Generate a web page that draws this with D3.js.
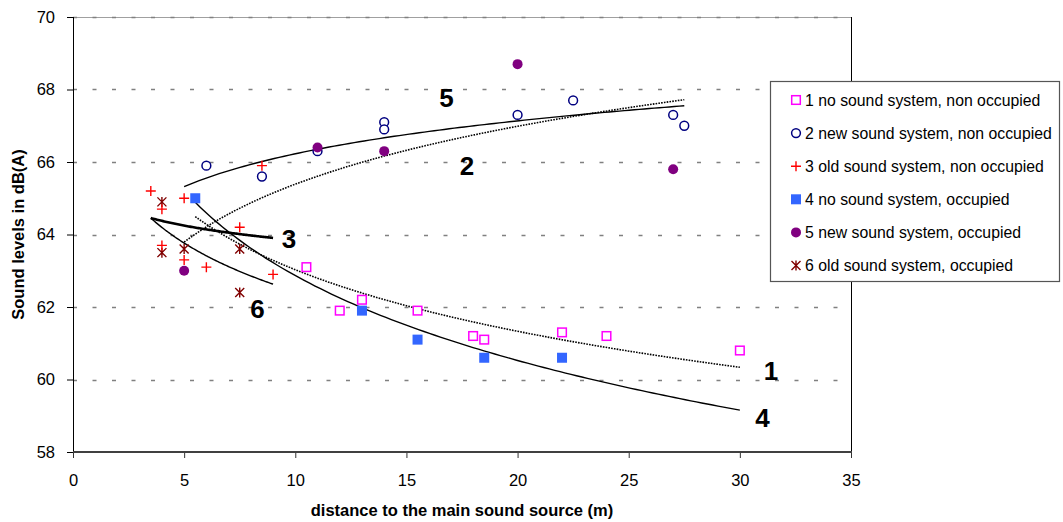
<!DOCTYPE html>
<html><head><meta charset="utf-8">
<script src="https://cdn.jsdelivr.net/npm/d3@7"></script>
<style>body{margin:0;background:#fff} text{font-family:Arial,"Liberation Sans",sans-serif}</style>
</head><body><svg id="c" width="1063" height="522"></svg>
<script>
const xTicks=[0,5,10,15,20,25,30,35];
const yTicks=[58,60,62,64,66,68,70];
const s1x=[10.5,12,13,15.5,18,18.5,22,24,30];
const s1y=[63.1,61.9,62.2,61.9,61.2,61.1,61.3,61.2,60.8];
const s2x=[6,8.5,11,14,14,20,22.5,27,27.5];
const s2y=[65.9,65.6,66.3,67.1,66.9,67.3,67.7,67.3,67.0];
const s3x=[3.5,4,4,5,5,6,7.5,8.5,9];
const s3y=[65.2,64.7,63.7,65.0,63.3,63.1,64.2,65.9,62.9];
const s4x=[5.5,13,15.5,18.5,22];
const s4y=[65.0,61.9,61.1,60.6,60.6];
const s5x=[5,11,14,20,27];
const s5y=[63.0,66.4,66.3,68.7,65.8];
const s6x=[4,4,5,7.5,7.5];
const s6y=[64.9,63.5,63.6,63.6,62.4];
const seriesNames=["1 no sound system, non occupied","2 new sound system, non occupied","3 old sound system, non occupied","4 no sound system, occupied","5 new sound system, occupied","6 old sound system, occupied"];
// logarithmic trendlines  y = a + b*ln(x)
const trendNames=["1","2","3","4","5","6"];
const trendA=[68.67,60.08,65.18,70.65,63.21,66.87];
const trendB=[-2.45,2.305,-0.58,-3.38,1.31,-1.93];
const trendX0=[5.5,5,3.5,5.5,5,3.5];
const trendX1=[30,27.5,9,30,27.5,9];
const labelX=[31.4,17.72,9.72,31.02,16.8,8.3];
const labelY=[59.99,65.64,63.63,58.69,67.52,61.7];

const svg=d3.select("#c");
const L=73,R=851,T=17,B=452;
const x=d3.scaleLinear().domain([0,35]).range([L,R]);
const y=d3.scaleLinear().domain([58,70]).range([B,T]);

// top border
svg.append("line").attr("x1",L).attr("x2",R).attr("y1",T+0.5).attr("y2",T+0.5).attr("stroke","#a0a0a0").attr("stroke-width",1);
// gridlines
svg.append("g").selectAll("line").data(yTicks.filter(v=>v>58)).join("line")
  .attr("x1",L).attr("x2",R).attr("y1",d=>Math.round(y(d))+0.5).attr("y2",d=>Math.round(y(d))+0.5)
  .attr("stroke","#808080").attr("stroke-width",1.3).attr("stroke-dasharray","4,15.5");
// right border
svg.append("line").attr("x1",R+0.5).attr("x2",R+0.5).attr("y1",T).attr("y2",B+6).attr("stroke","#000");

// axes
const gy=svg.append("g").attr("transform",`translate(${L},0)`)
  .call(d3.axisLeft(y).tickValues(yTicks).tickSize(6).tickPadding(12).tickFormat(d3.format("d")));
gy.select(".domain").remove();
gy.selectAll("text").attr("font-size","16.5px").attr("fill","#000").attr("font-family","Arial, 'Liberation Sans', sans-serif");
gy.selectAll("line").attr("stroke","#000");
svg.append("line").attr("x1",L+0.5).attr("x2",L+0.5).attr("y1",T).attr("y2",B).attr("stroke","#000");

const gx=svg.append("g").attr("transform",`translate(0,${B})`)
  .call(d3.axisBottom(x).tickValues(xTicks).tickSize(6).tickPadding(16).tickFormat(d3.format("d")));
gx.select(".domain").remove();
gx.selectAll("text").attr("font-size","16.5px").attr("fill","#000").attr("font-family","Arial, 'Liberation Sans', sans-serif");
gx.selectAll("line").attr("stroke","#333");
svg.append("line").attr("x1",L).attr("x2",R+1).attr("y1",B).attr("y2",B).attr("stroke","#404040").attr("stroke-width",2);

// axis titles
svg.append("text").attr("x",(L+R)/2-0).attr("y",516).attr("text-anchor","middle")
  .attr("font-weight","bold").attr("font-size","16.5px").text("distance to the main sound source (m)");
svg.append("text").attr("transform",`translate(24,${(T+B)/2}) rotate(-90)`).attr("text-anchor","middle")
  .attr("font-weight","bold").attr("font-size","16.5px").text("Sound levels in dB(A)");

// trendlines
const trendStyle=[
  {w:1.6,dash:"1.6,1.2"},{w:1.6,dash:"1.6,1.2"},{w:2.6,dash:null},
  {w:1.4,dash:null},{w:1.4,dash:null},{w:1.4,dash:null}];
const line=d3.line().x(d=>x(d[0])).y(d=>y(d[1])).curve(d3.curveLinear);
trendNames.forEach((n,i)=>{
  const pts=d3.range(0,101).map(k=>{const xv=trendX0[i]+(trendX1[i]-trendX0[i])*k/100;return [xv,trendA[i]+trendB[i]*Math.log(xv)];});
  const p=svg.append("path").attr("d",line(pts)).attr("fill","none").attr("stroke","#000").attr("stroke-width",trendStyle[i].w);
  if(trendStyle[i].dash)p.attr("stroke-dasharray",trendStyle[i].dash);
});

// markers
function drawMarker(g,type,cx,cy){
  if(type===0) g.append("rect").attr("x",cx-4.3).attr("y",cy-4.3).attr("width",8.6).attr("height",8.6).attr("fill","#fff").attr("stroke","#FF00FF").attr("stroke-width",1.5);
  else if(type===1) g.append("circle").attr("cx",cx).attr("cy",cy).attr("r",4.4).attr("fill","#fff").attr("stroke","#000080").attr("stroke-width",1.5);
  else if(type===2) g.append("path").attr("d",`M${cx-5},${cy}H${cx+5}M${cx},${cy-5}V${cy+5}`).attr("stroke","#FF0000").attr("stroke-width",1.4).attr("fill","none");
  else if(type===3) g.append("rect").attr("x",cx-5).attr("y",cy-5).attr("width",10).attr("height",10).attr("fill","#3366FF");
  else if(type===4) g.append("circle").attr("cx",cx).attr("cy",cy).attr("r",5).attr("fill","#800080");
  else g.append("path").attr("d",`M${cx-4.5},${cy-4.5}L${cx+4.5},${cy+4.5}M${cx-4.5},${cy+4.5}L${cx+4.5},${cy-4.5}M${cx},${cy-5}V${cy+5}`).attr("stroke","#800000").attr("stroke-width",1.4).attr("fill","none");
}
const sx=[s1x,s2x,s3x,s4x,s5x,s6x], sy=[s1y,s2y,s3y,s4y,s5y,s6y];
const mg=svg.append("g");
[0,1,4,3,5,2].forEach(i=>{sx[i].forEach((v,k)=>drawMarker(mg,i,x(v),y(sy[i][k])));});

// trend labels
svg.append("g").selectAll("text").data(trendNames).join("text")
  .attr("x",(d,i)=>x(labelX[i])).attr("y",(d,i)=>y(labelY[i])).attr("text-anchor","middle")
  .attr("font-weight","bold").attr("font-size","26px").text(d=>d);

// legend
const lg=svg.append("g");
lg.append("rect").attr("x",770.5).attr("y",81.5).attr("width",289).attr("height",200).attr("fill","#fff").attr("stroke","#555").attr("stroke-width",1.2);
seriesNames.forEach((n,i)=>{
  const cy=100+i*33.1;
  drawMarker(lg,i,796,cy);
  lg.append("text").attr("x",805).attr("y",cy+5.7).attr("font-size","15.8px").attr("fill","#000").text(n);
});
</script></body></html>
